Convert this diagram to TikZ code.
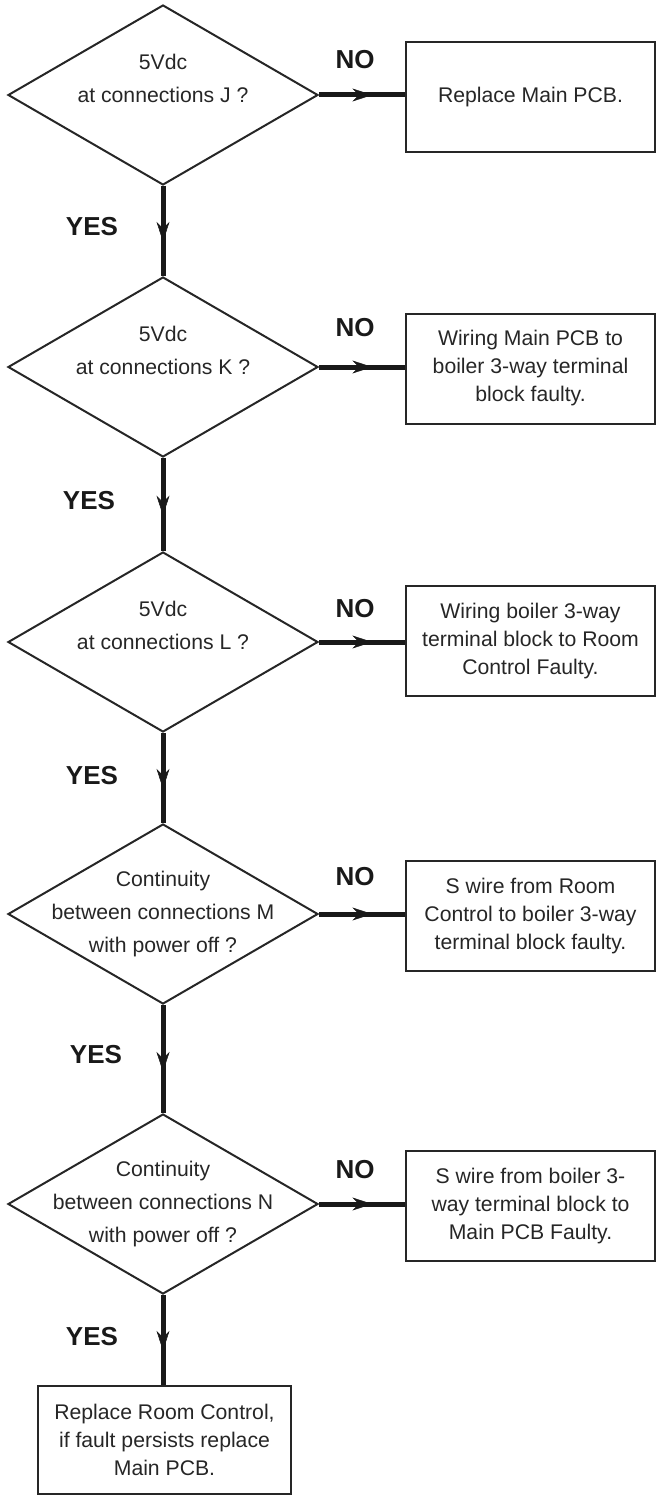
\documentclass[tikz,border=0pt]{standalone}
\usepackage{fontspec}
\setmainfont{Liberation Sans}
\usepackage{tikz}
\usetikzlibrary{
    arrows.meta,
    shapes.geometric,
    decorations.markings
}
\tikzstyle{decision} = [
    diamond,
    draw=black!85,
    line width=2pt,
    aspect=1.72,
    minimum width=310pt,
    minimum height=180pt,
    inner xsep=-55pt,
    inner ysep=0pt,
    align=center,
    text=black!85,
    font=\fontsize{21.2}{33}\selectfont
]
\tikzstyle{action} = [
    rectangle,
    draw=black!85,
    line width=2pt,
    minimum width=249pt,
    minimum height=110pt,
    align=center,
    text=black!85,
    font=\fontsize{21.2}{28}\selectfont
]
\tikzstyle{answer} = [
    text=black!90,
    font=\fontsize{26}{28}\selectfont\bfseries
]
\tikzstyle{flow} = [
    line width=5pt,
    draw=black!90,
    decoration={markings, mark=at position 0.62 with {\arrow{Stealth[length=20pt, width=13pt, line width=0.5pt]}}},
    postaction={decorate}
]

\begin{document}
\begin{tikzpicture}[x=1pt, y=-1pt]
    \useasboundingbox (0,0) rectangle (656,1495);

    % Checks down the left side
    \node[decision] (dJ) at (163,95) {5Vdc\\at connections J ?\\~};
    \node[decision] (dK) at (163,367) {5Vdc\\at connections K ?\\~};
    \node[decision] (dL) at (163,642) {5Vdc\\at connections L ?\\~};
    \node[decision] (dM) at (163,914) {Continuity\\between connections M\\with power off ?};
    \node[decision] (dN) at (163,1204) {Continuity\\between connections N\\with power off ?};

    % Faults on the right
    \node[action] (fJ) at (530.5,97) {Replace Main PCB.};
    \node[action] (fK) at (530.5,368.5) {Wiring Main PCB to\\boiler 3-way terminal\\block faulty.};
    \node[action] (fL) at (530.5,641) {Wiring boiler 3-way\\terminal block to Room\\Control Faulty.};
    \node[action] (fM) at (530.5,916) {S wire from Room\\Control to boiler 3-way\\terminal block faulty.};
    \node[action] (fN) at (530.5,1206) {S wire from boiler 3-\\way terminal block to\\Main PCB Faulty.};

    % Last step
    \node[action, minimum width=253pt, minimum height=108pt] (room) at (164.5,1440) {Replace Room Control,\\if fault persists replace\\Main PCB.};

    % NO labels
    \node[answer] (noJ) at (355,60) {NO};
    \node[answer] (noK) at (355,328) {NO};
    \node[answer] (noL) at (355,609) {NO};
    \node[answer] (noM) at (355,877) {NO};
    \node[answer] (noN) at (355,1170) {NO};

    % YES labels
    \node[answer] (yesJ) at (92,227) {YES};
    \node[answer] (yesK) at (89,501) {YES};
    \node[answer] (yesL) at (92,776) {YES};
    \node[answer] (yesM) at (96,1055) {YES};
    \node[answer] (yesN) at (92,1337) {YES};

    % Arrows
    \draw[flow] (dJ.east) -- (dJ.east -| fJ.west);
    \draw[flow] (dK.east) -- (dK.east -| fK.west);
    \draw[flow] (dL.east) -- (dL.east -| fL.west);
    \draw[flow] (dM.east) -- (dM.east -| fM.west);
    \draw[flow] (dN.east) -- (dN.east -| fN.west);
    \draw[flow] (dJ.south) -- (dK.north);
    \draw[flow] (dK.south) -- (dL.north);
    \draw[flow] (dL.south) -- (dM.north);
    \draw[flow] (dM.south) -- (dN.north);
    \draw[flow] (dN.south) -- (dN.south |- room.north);
\end{tikzpicture}
\end{document}
